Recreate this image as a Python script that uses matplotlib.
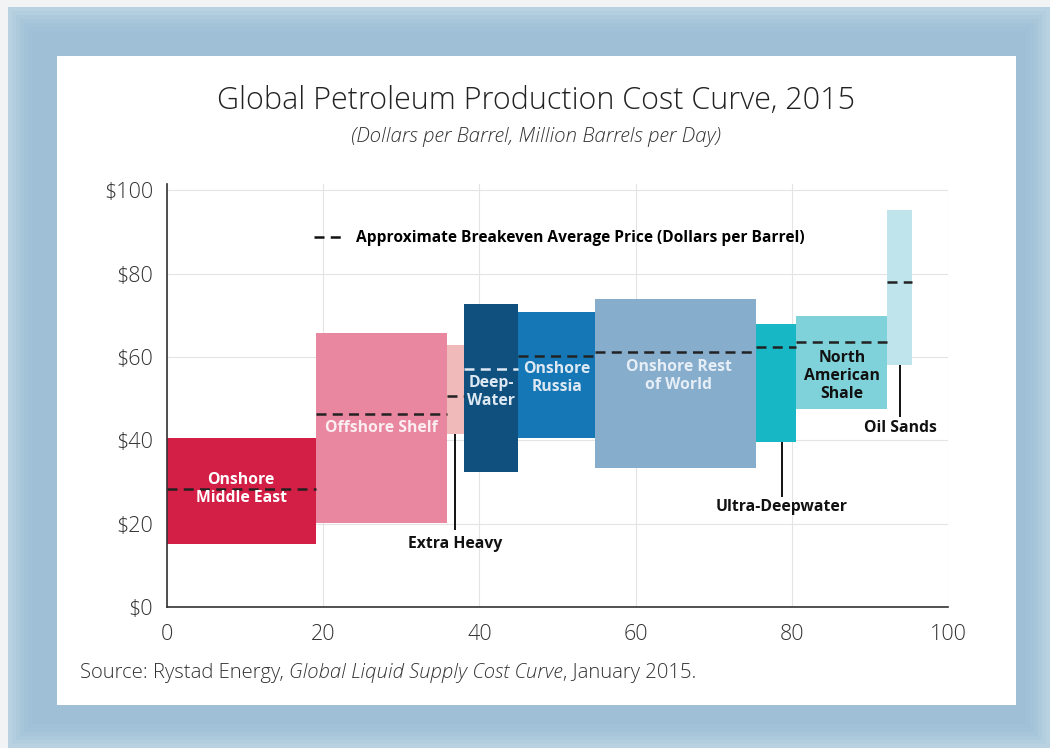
import matplotlib
matplotlib.use("Agg")
import matplotlib.pyplot as plt
from matplotlib.patches import Rectangle
from matplotlib.lines import Line2D

# Segments of the cost curve: cumulative volume (million b/d) and cost range ($/bbl)
segments = ["Onshore Middle East", "Offshore Shelf", "Extra Heavy", "Deep-Water",
            "Onshore Russia", "Onshore Rest of World", "Ultra-Deepwater",
            "North American Shale", "Oil Sands"]
x_start = [0.0, 19.1, 35.8, 38.0, 44.9, 54.8, 75.4, 80.6, 92.2]
x_end = [19.1, 35.8, 38.0, 44.9, 54.8, 75.4, 80.6, 92.2, 95.4]
cost_low = [15.1, 20.2, 41.5, 32.5, 40.6, 33.4, 39.5, 47.6, 58.0]
cost_high = [40.5, 65.8, 62.8, 72.8, 70.8, 74.0, 67.9, 69.9, 95.2]
breakeven = [28.3, 46.3, 50.6, 57.2, 60.3, 61.2, 62.4, 63.6, 77.9]

colors = ["#D31E45", "#E8879F", "#F0B9BA", "#0F507F", "#1577B5",
          "#87ADCD", "#17B7C6", "#80D2DA", "#BFE4EC"]
dash_colors = ["#222222"] * 9
dash_colors[3] = "#DDE8F2"

# in-box labels: text, x, y, color
box_labels = [("Onshore\nMiddle East", 9.5, 28.4, "white"),
              ("Offshore Shelf", 27.4, 43.0, "#FBEDF1"),
              ("Deep-\nWater", 41.5, 51.5, "#DDE8F2"),
              ("Onshore\nRussia", 49.9, 55.0, "#DDE8F2"),
              ("Onshore Rest\nof World", 65.5, 55.4, "#E6EEF6"),
              ("North\nAmerican\nShale", 86.4, 55.4, "#111111")]

# callouts: text, leader x, leader top, leader bottom, label y
callouts = [("Extra Heavy", 36.9, 41.5, 18.5, 15.0),
            ("Ultra-Deepwater", 78.7, 39.5, 26.4, 24.0),
            ("Oil Sands", 93.9, 58.0, 45.6, 43.0)]

font = "Open Sans"

fig = plt.figure(figsize=(10.5, 7.48), dpi=100)
fig.patch.set_facecolor("#F2F3F5")

# framed background: blue border with soft edge, white panel
bg = fig.add_axes([0, 0, 1, 1], zorder=-10)
bg.set_xlim(0, 1050)
bg.set_ylim(748, 0)
bg.axis("off")
bg.add_patch(Rectangle((8, 7), 1042, 741, color="#B8D2E2", lw=0))
shades = ["#B2CEDF", "#ACCADC", "#A7C6DA", "#A3C3D8", "#A0C1D7", "#9EBFD6"]
for i, c in enumerate(shades):
    d = 4 * (i + 1)
    bg.add_patch(Rectangle((8 + d, 7 + d), 1042 - 2 * d, 741 - 2 * d, color=c, lw=0))
bg.add_patch(Rectangle((57, 56), 959, 649, color="white", lw=0))

ax = fig.add_axes([167 / 1050, (748 - 607) / 748, 781 / 1050, 423 / 748])
ax.set_xlim(0, 100)
ax.set_ylim(0, 101.5)
ax.set_facecolor("white")

for i in range(len(segments)):
    w = x_end[i] - x_start[i]
    ax.add_patch(Rectangle((x_start[i], cost_low[i]), w, cost_high[i] - cost_low[i],
                           facecolor=colors[i], edgecolor="none", zorder=2))
    ax.hlines(breakeven[i], x_start[i], x_end[i], colors=dash_colors[i],
              linestyles=(0, (4, 2.5)), lw=1.8, zorder=3)

for txt, x, y, c in box_labels:
    ax.text(x, y, txt, ha="center", va="center", color=c, fontsize=11.3,
            fontweight="bold", family=font, linespacing=1.15, zorder=4)

for txt, lx, top, bot, ly in callouts:
    ax.vlines(lx, bot, top, colors="#111111", lw=1.4, zorder=3)
    ax.text(lx, ly, txt, ha="center", va="center", color="#111111", fontsize=11.3,
            fontweight="bold", family=font, zorder=4)

handle = Line2D([], [], color="#111111", lw=1.8, linestyle=(0, (4, 2.5)))
ax.legend([handle], ["Approximate Breakeven Average Price (Dollars per Barrel)"],
          loc="center left", bbox_to_anchor=(0.17, 0.872), frameon=False,
          handlelength=2.0, handletextpad=0.7,
          prop={"family": font, "weight": "bold", "size": 11.2})

ax.set_xticks([0, 20, 40, 60, 80, 100])
ax.set_yticks([0, 20, 40, 60, 80, 100])
ax.set_yticklabels(["$0", "$20", "$40", "$60", "$80", "$100"])
ax.tick_params(length=0, labelsize=15.5, colors="#333333")
ax.tick_params(axis="x", pad=12)
ax.tick_params(axis="y", pad=10)
for lab in ax.get_xticklabels() + ax.get_yticklabels():
    lab.set_family(font)
    lab.set_fontweight("light")
ax.grid(True, color="#E4E4E4", lw=0.8, zorder=0)
ax.set_axisbelow(True)
for s in ["top", "right"]:
    ax.spines[s].set_visible(False)
for s in ["left", "bottom"]:
    ax.spines[s].set_color("#333333")
    ax.spines[s].set_linewidth(1.2)

fig.text(536 / 1050, 1 - 101 / 748, "Global Petroleum Production Cost Curve, 2015",
         ha="center", va="center", fontsize=22, family=font, fontweight="light",
         color="#222222")
fig.text(536 / 1050, 1 - 137 / 748, "(Dollars per Barrel, Million Barrels per Day)",
         ha="center", va="center", fontsize=14.8, style="italic", family=font,
         fontweight="light", color="#333333")

# source line: plain, italic report name, plain date
r = fig.canvas.get_renderer()
src_y = 1 - 673 / 748
t1 = fig.text(80 / 1050, src_y, "Source: Rystad Energy, ", ha="left", va="center",
              fontsize=14.6, family=font, fontweight="light", color="#333333")
bb = t1.get_window_extent(renderer=r)
t2 = fig.text(bb.x1 / fig.bbox.width, src_y, "Global Liquid Supply Cost Curve",
              ha="left", va="center", fontsize=14.6, style="italic", family=font,
              fontweight="light", color="#333333")
bb2 = t2.get_window_extent(renderer=r)
fig.text(bb2.x1 / fig.bbox.width, src_y, ", January 2015.", ha="left",
         va="center", fontsize=14.6, family=font, fontweight="light", color="#333333")

fig.savefig("out.png", dpi=100)
